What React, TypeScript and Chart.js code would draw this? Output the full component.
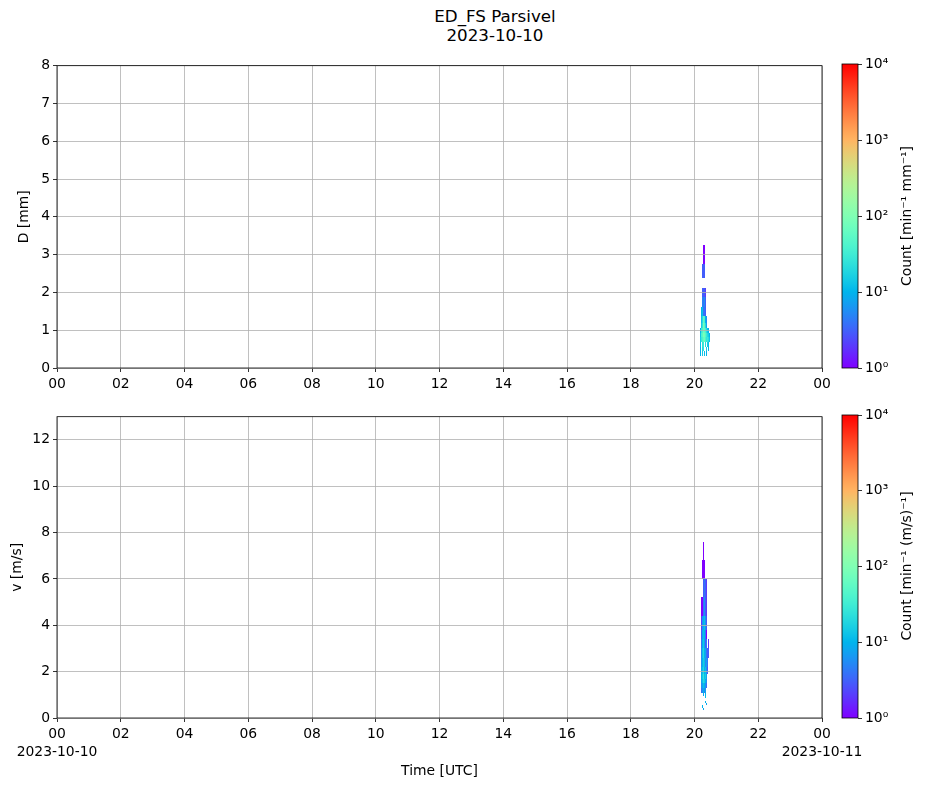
import React, { useEffect, useRef } from "react";
import { Chart, registerables } from "chart.js";

Chart.register(...registerables);

const FONT = "'DejaVu Sans', sans-serif";

// Time column edges (hours UTC, 2023-10-10)
const timeEdges = [20.18, 20.21, 20.24, 20.27, 20.3, 20.33, 20.36, 20.39, 20.42, 20.45, 20.48];

// Diameter bin edges (mm)
const dEdges = [0.312, 0.437, 0.562, 0.687, 0.812, 0.937, 1.062, 1.187, 1.375, 1.625, 1.875, 2.125, 2.375, 2.75, 3.25];

// Counts per diameter row (bottom to top), one value per time column
const dCounts = [
  [10, 0, 15, 0, 12, 0, 10, 0, 0, 0],
  [10, 0, 20, 25, 0, 0, 15, 0, 10, 0],
  [12, 0, 25, 30, 0, 20, 0, 15, 12, 0],
  [15, 30, 40, 60, 70, 40, 25, 30, 20, 12],
  [12, 40, 50, 90, 80, 50, 30, 20, 15, 10],
  [10, 30, 40, 70, 60, 40, 20, 12, 10, 0],
  [0, 15, 25, 80, 50, 20, 8, 0, 0, 0],
  [0, 12, 20, 60, 40, 10, 6, 0, 0, 0],
  [0, 10, 12, 4, 4, 3, 0, 0, 0, 0],
  [0, 0, 5, 4, 6, 3, 0, 0, 0, 0],
  [0, 0, 3, 3, 3, 2, 0, 0, 0, 0],
  [0, 0, 0, 0, 0, 0, 0, 0, 0, 0],
  [0, 0, 3, 3, 3, 0, 0, 0, 0, 0],
  [0, 0, 0, 1, 1, 0, 0, 0, 0, 0],
];

// Velocity bin edges (m/s)
const vEdges = [0.35, 0.45, 0.55, 0.65, 0.75, 0.85, 0.95, 1.1, 1.3, 1.5, 1.7, 1.9, 2.2, 2.6, 3.0, 3.4, 3.8, 4.4, 5.2, 6.0, 6.8, 7.6];

// Counts per velocity row (bottom to top), one value per time column
const vCounts = [
  [0, 0, 0, 8, 0, 0, 0, 0, 0, 0],
  [0, 0, 10, 0, 0, 0, 0, 0, 0, 0],
  [0, 0, 0, 0, 0, 0, 8, 0, 0, 0],
  [0, 0, 0, 0, 0, 10, 0, 0, 0, 0],
  [0, 0, 0, 0, 0, 0, 0, 0, 0, 0],
  [0, 0, 0, 0, 0, 12, 0, 0, 0, 0],
  [0, 0, 0, 8, 0, 10, 0, 0, 0, 0],
  [0, 4, 6, 10, 5, 8, 0, 0, 0, 0],
  [0, 6, 8, 12, 10, 6, 4, 0, 0, 0],
  [0, 8, 12, 20, 15, 10, 6, 0, 0, 0],
  [0, 10, 14, 25, 12, 15, 8, 0, 0, 0],
  [0, 8, 12, 18, 10, 12, 6, 3, 0, 0],
  [0, 6, 10, 15, 12, 5, 8, 4, 0, 0],
  [0, 5, 12, 18, 10, 8, 4, 3, 3, 0],
  [0, 4, 10, 14, 8, 3, 5, 0, 2, 0],
  [0, 3, 8, 12, 10, 4, 1, 0, 0, 0],
  [0, 2, 6, 10, 12, 6, 3, 0, 0, 0],
  [0, 1, 1, 4, 6, 3, 2, 0, 0, 0],
  [0, 0, 0, 3, 4, 3, 2, 0, 0, 0],
  [0, 0, 1, 1, 1, 0, 0, 0, 0, 0],
  [0, 0, 0, 1, 0, 0, 0, 0, 0, 0],
];

const hourTicks = [0, 2, 4, 6, 8, 10, 12, 14, 16, 18, 20, 22, 24];
const dTicks = [0, 1, 2, 3, 4, 5, 6, 7, 8];
const vTicks = [0, 2, 4, 6, 8, 10, 12];
const cbarTicks = [1, 10, 100, 1000, 10000];
const SUP = ["⁰", "¹", "²", "³", "⁴"];

const clamp = (v: number) => Math.max(0, Math.min(1, v));
function rainbow(x: number): string {
  const r = clamp(Math.abs(2 * x - 0.5));
  const g = clamp(Math.sin(Math.PI * x));
  const b = clamp(Math.cos((Math.PI * x) / 2));
  return `rgb(${Math.round(r * 255)},${Math.round(g * 255)},${Math.round(b * 255)})`;
}
const countColor = (c: number) => rainbow(clamp(Math.log10(c) / 4));

const tickFont = { family: FONT, size: 13.9, lineHeight: 1.25 };
const titleFont = { family: FONT, size: 13.9, lineHeight: 1.2 };

function meshPlugin(times: number[], edges: number[], counts: number[][]) {
  return {
    id: "mesh",
    beforeDraw(chart: any) {
      const { ctx, chartArea, scales } = chart;
      const xs = scales.x;
      const ys = scales.y;
      ctx.save();
      ctx.beginPath();
      ctx.rect(chartArea.left, chartArea.top, chartArea.right - chartArea.left, chartArea.bottom - chartArea.top);
      ctx.clip();
      for (let r = 0; r < counts.length; r++) {
        for (let c = 0; c < counts[r].length; c++) {
          const v = counts[r][c];
          if (!v) continue;
          const x0 = Math.round(xs.getPixelForValue(times[c]));
          const x1 = Math.max(x0 + 1, Math.round(xs.getPixelForValue(times[c + 1])));
          const y0 = Math.round(ys.getPixelForValue(edges[r]));
          const y1 = Math.min(y0 - 1, Math.round(ys.getPixelForValue(edges[r + 1])));
          ctx.fillStyle = countColor(v);
          ctx.fillRect(x0, y1, x1 - x0, y0 - y1);
        }
      }
      ctx.restore();
    },
  };
}

const framePlugin = {
  id: "frame",
  afterDraw(chart: any) {
    const { ctx, chartArea } = chart;
    ctx.save();
    ctx.strokeStyle = "#000";
    ctx.lineWidth = 0.8;
    ctx.strokeRect(chartArea.left, chartArea.top, chartArea.right - chartArea.left, chartArea.bottom - chartArea.top);
    ctx.restore();
  },
};

const gradientPlugin = {
  id: "gradient",
  beforeDraw(chart: any) {
    const { ctx, chartArea, scales } = chart;
    const ys = scales.y;
    const top = ys.getPixelForValue(10000);
    const bottom = ys.getPixelForValue(1);
    const g = ctx.createLinearGradient(0, bottom, 0, top);
    const n = 40;
    for (let i = 0; i <= n; i++) g.addColorStop(i / n, rainbow(i / n));
    ctx.save();
    ctx.fillStyle = g;
    ctx.fillRect(chartArea.left, top, chartArea.right - chartArea.left, bottom - top);
    ctx.restore();
  },
};

const pad2 = (v: number) => String(v % 24).padStart(2, "0");

function mainConfig(opts: {
  yMax: number;
  yTicks: number[];
  yTitle: string;
  yTitlePad: number;
  xHeight: number;
  bottom: boolean;
  times: number[];
  edges: number[];
  counts: number[][];
}): any {
  return {
    type: "scatter",
    data: { datasets: [{ data: [] }] },
    options: {
      animation: false,
      responsive: false,
      events: [],
      layout: { padding: { top: 10, right: 105, bottom: 0, left: 0 } },
      plugins: { legend: { display: false }, tooltip: { enabled: false }, title: { display: false } },
      scales: {
        x: {
          type: "linear",
          min: 0,
          max: 24,
          afterBuildTicks: (s: any) => {
            s.ticks = hourTicks.map((v) => ({ value: v }));
          },
          afterFit: (s: any) => {
            s.height = opts.xHeight;
          },
          ticks: {
            autoSkip: false,
            maxRotation: 0,
            minRotation: 0,
            padding: 4,
            color: "#000",
            font: tickFont,
            callback: (v: number) => {
              if (opts.bottom && v === 0) return ["00", "2023-10-10"];
              if (opts.bottom && v === 24) return ["00", "2023-10-11"];
              return pad2(v);
            },
          },
          grid: { color: "#b0b0b0", lineWidth: 0.8, tickColor: "#000", tickWidth: 0.8, tickLength: 4 },
          border: { display: false },
          title: {
            display: opts.bottom,
            text: "Time [UTC]",
            color: "#000",
            font: titleFont,
            padding: { top: 0, bottom: 8.7 },
          },
        },
        y: {
          type: "linear",
          position: "left",
          min: 0,
          max: opts.yMax,
          afterBuildTicks: (s: any) => {
            s.ticks = opts.yTicks.map((v) => ({ value: v }));
          },
          afterFit: (s: any) => {
            s.width = 57;
          },
          ticks: { padding: 3, color: "#000", font: tickFont, callback: (v: number) => String(v) },
          grid: { color: "#b0b0b0", lineWidth: 0.8, tickColor: "#000", tickWidth: 0.8, tickLength: 4 },
          border: { display: false },
          title: {
            display: true,
            text: opts.yTitle,
            color: "#000",
            font: titleFont,
            padding: { top: opts.yTitlePad, bottom: 0 },
          },
        },
      },
    },
    plugins: [meshPlugin(opts.times, opts.edges, opts.counts), framePlugin],
  };
}

function cbarConfig(): any {
  return {
    type: "scatter",
    data: { datasets: [{ data: [] }] },
    options: {
      animation: false,
      responsive: false,
      events: [],
      layout: { padding: { top: 12, bottom: 12, left: 6, right: 0 } },
      plugins: { legend: { display: false }, tooltip: { enabled: false } },
      scales: {
        x: { type: "linear", display: false, min: 0, max: 1 },
        y: {
          type: "logarithmic",
          position: "right",
          min: 1,
          max: 10000,
          afterBuildTicks: (s: any) => {
            s.ticks = cbarTicks.map((v) => ({ value: v, major: true }));
          },
          afterFit: (s: any) => {
            s.width = 69;
          },
          ticks: {
            padding: 3,
            color: "#000",
            font: tickFont,
            callback: (v: number) => "10" + SUP[Math.round(Math.log10(v))],
          },
          grid: {
            drawOnChartArea: false,
            drawTicks: true,
            tickLength: 4,
            tickColor: "#000",
            tickWidth: 0.8,
            lineWidth: 0.8,
          },
          border: { display: false },
        },
      },
    },
    plugins: [gradientPlugin, framePlugin],
  };
}

const abs = (left: number, top: number, width: number, height: number): React.CSSProperties => ({
  position: "absolute",
  left,
  top,
  width,
  height,
});

export default function App() {
  const topRef = useRef<HTMLCanvasElement>(null);
  const botRef = useRef<HTMLCanvasElement>(null);
  const cbTopRef = useRef<HTMLCanvasElement>(null);
  const cbBotRef = useRef<HTMLCanvasElement>(null);

  useEffect(() => {
    const charts = [
      new Chart(
        topRef.current!,
        mainConfig({
          yMax: 8,
          yTicks: dTicks,
          yTitle: "D [mm]",
          yTitlePad: 15.7,
          xHeight: 24,
          bottom: false,
          times: timeEdges,
          edges: dEdges,
          counts: dCounts,
        })
      ),
      new Chart(
        botRef.current!,
        mainConfig({
          yMax: 13,
          yTicks: vTicks,
          yTitle: "v [m/s]",
          yTitlePad: 8.7,
          xHeight: 70,
          bottom: true,
          times: timeEdges,
          edges: vEdges,
          counts: vCounts,
        })
      ),
      new Chart(cbTopRef.current!, cbarConfig()),
      new Chart(cbBotRef.current!, cbarConfig()),
    ];
    return () => charts.forEach((c) => c.destroy());
  }, []);

  const cbLabel: React.CSSProperties = {
    position: "absolute",
    width: 300,
    height: 20,
    lineHeight: "20px",
    textAlign: "center",
    fontSize: 13.9,
    transform: "rotate(-90deg)",
    whiteSpace: "nowrap",
    color: "#000",
  };

  return (
    <div
      style={{
        position: "absolute",
        left: 0,
        top: 0,
        width: 927,
        height: 788,
        background: "#fff",
        fontFamily: FONT,
        overflow: "hidden",
      }}
    >
      <div
        style={{
          position: "absolute",
          left: 345,
          top: 6.5,
          width: 300,
          textAlign: "center",
          fontSize: 16.7,
          lineHeight: "19px",
          color: "#000",
        }}
      >
        ED_FS Parsivel
        <br />
        2023-10-10
      </div>
      <canvas ref={topRef} width={927} height={338} style={abs(0, 54, 927, 338)} />
      <canvas ref={botRef} width={927} height={383} style={abs(0, 405, 927, 383)} />
      <canvas ref={cbTopRef} width={91} height={328} style={abs(836, 52, 91, 328)} />
      <canvas ref={cbBotRef} width={91} height={327} style={abs(836, 403, 91, 327)} />
      <div style={{ ...cbLabel, left: 906 - 150, top: 216 - 10 }}>Count [min⁻¹ mm⁻¹]</div>
      <div style={{ ...cbLabel, left: 906 - 150, top: 566 - 10 }}>Count [min⁻¹ (m/s)⁻¹]</div>
    </div>
  );
}
